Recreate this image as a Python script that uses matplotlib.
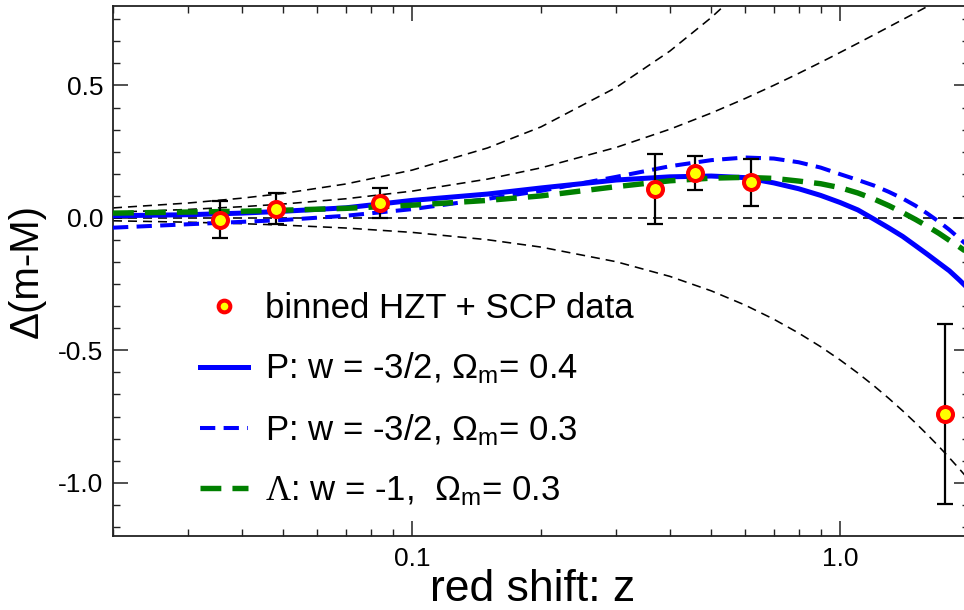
import matplotlib
matplotlib.use("Agg")
import matplotlib.pyplot as plt
from matplotlib.ticker import FixedLocator, FixedFormatter, LogLocator, NullFormatter, AutoMinorLocator

plt.rcParams['font.family'] = ['Liberation Sans', 'DejaVu Sans']
plt.rcParams['mathtext.fontset'] = 'custom'
plt.rcParams['mathtext.rm'] = 'Liberation Sans'
plt.rcParams['mathtext.it'] = 'Liberation Sans'
plt.rcParams['mathtext.sf'] = 'Liberation Serif'
plt.rcParams['lines.scale_dashes'] = False

# Binned HZT + SCP supernova data
z_data = [0.0356, 0.0481, 0.0839, 0.370, 0.459, 0.620, 1.759]
dm_data = [-0.007, 0.035, 0.057, 0.109, 0.169, 0.134, -0.741]
dm_err = [0.070, 0.059, 0.056, 0.131, 0.063, 0.089, 0.340]

# Model curves sampled in red shift
z_model = [0.02, 0.03, 0.04, 0.05, 0.07, 0.1, 0.15, 0.2, 0.3, 0.4, 0.5, 0.6, 0.7,
           0.8, 0.9, 1.0, 1.1, 1.2, 1.3, 1.4, 1.5, 1.6, 1.7, 1.8, 1.9, 2.0]
p_om04 = [0.008, 0.012, 0.018, 0.025, 0.038, 0.066, 0.090, 0.113, 0.143, 0.155, 0.158,
          0.152, 0.132, 0.110, 0.085, 0.058, 0.030, -0.005, -0.038, -0.070, -0.105,
          -0.138, -0.170, -0.200, -0.235, -0.270]
p_om03 = [-0.037, -0.024, -0.015, -0.008, 0.008, 0.033, 0.072, 0.102, 0.155, 0.195, 0.218,
          0.228, 0.224, 0.210, 0.190, 0.165, 0.143, 0.122, 0.098, 0.073, 0.046,
          0.016, -0.014, -0.045, -0.078, -0.110]
lcdm_om03 = [0.018, 0.022, 0.025, 0.029, 0.036, 0.048, 0.066, 0.083, 0.118, 0.140, 0.150,
             0.153, 0.149, 0.139, 0.129, 0.114, 0.094, 0.071, 0.046, 0.020, -0.006,
             -0.032, -0.058, -0.085, -0.110, -0.135]

# Reference curves (black dashed)
ref_zero = [0.0] * len(z_model)
ref_desitter = [0.0214, 0.0319, 0.0422, 0.0523, 0.0722, 0.1010, 0.1464, 0.1889, 0.2662,
                0.3347, 0.3959, 0.4509, 0.5006, 0.5457, 0.5869, 0.6247, 0.6594, 0.6915,
                0.7212, 0.7488, 0.7745, 0.7985, 0.8210, 0.8420, 0.8618, 0.8805]
z_phantom = [0.02, 0.03, 0.04, 0.05, 0.07, 0.1, 0.15, 0.2, 0.3, 0.4, 0.5, 0.6]
ref_phantom = [0.0376, 0.0561, 0.0744, 0.0924, 0.128, 0.1804, 0.264, 0.3436, 0.4928,
               0.6297, 0.7566, 0.8745]
ref_eds = [-0.011, -0.0163, -0.0218, -0.0273, -0.0383, -0.0548, -0.0825, -0.1103, -0.1657,
           -0.2209, -0.2756, -0.3295, -0.3827, -0.435, -0.4862, -0.5366, -0.5860, -0.6345,
           -0.682, -0.7286, -0.7742, -0.819, -0.8628, -0.906, -0.9482, -0.9896]

x_ticks = [0.1, 1.0]
x_ticklabels = ['0.1', '1.0']
y_ticks = [-1.0, -0.5, 0.0, 0.5]
y_ticklabels = ['-1.0', '-0.5', '0.0', '0.5']

fig = plt.figure(figsize=(9.64, 6.10), dpi=100)
W, H = 964.0, 610.0
ax = fig.add_axes([113 / W, 74.3 / H, 856 / W, 529.7 / H])

black_dash = dict(color='black', lw=1.15, dashes=(6.5, 4.3), zorder=2)
ax.plot(z_model, ref_zero, **black_dash)
ax.plot(z_model, ref_desitter, **black_dash)
ax.plot(z_phantom, ref_phantom, **black_dash)
ax.plot(z_model, ref_eds, **black_dash)

ax.plot(z_model, p_om04, color='#0000ff', lw=3.6, zorder=3,
        label=r'P: w = -3/2, $\Omega_{m}$= 0.4')
ax.plot(z_model, p_om03, color='#0000ff', lw=2.9, dashes=(11, 6), zorder=3,
        label=r'P: w = -3/2, $\Omega_{m}$= 0.3')
ax.plot(z_model, lcdm_om03, color='#008000', lw=3.9, dashes=(15, 8), zorder=3,
        label=r'$\mathsf{\Lambda}$: w = -1,  $\Omega_{m}$= 0.3')

ax.errorbar(z_data, dm_data, yerr=dm_err, fmt='none', ecolor='black', elinewidth=1.6,
            capsize=6, capthick=1.6, zorder=4)
ax.plot(z_data, dm_data, ls='none', marker='o', ms=10.8, mfc='#ffff00', mec='#ff0000',
        mew=2.9, zorder=5, label='binned HZT + SCP data')

ax.set_xscale('log')
ax.set_xlim(0.02, 2.0)
ax.set_ylim(-1.2, 0.8)
ax.xaxis.set_major_locator(FixedLocator(x_ticks))
ax.xaxis.set_major_formatter(FixedFormatter(x_ticklabels))
ax.xaxis.set_minor_locator(LogLocator(base=10, subs=range(2, 10)))
ax.xaxis.set_minor_formatter(NullFormatter())
ax.yaxis.set_major_locator(FixedLocator(y_ticks))
ax.yaxis.set_major_formatter(FixedFormatter(y_ticklabels))
ax.yaxis.set_minor_locator(AutoMinorLocator(6))

ax.tick_params(which='both', direction='in', top=True, right=True, labelsize=19,
               color='#222222')
ax.tick_params(which='major', length=11, width=1.1)
ax.tick_params(which='minor', length=5, width=1.0)
ax.tick_params(axis='x', pad=8)
ax.tick_params(axis='y', pad=7)
for s in ax.spines.values():
    s.set_linewidth(1.3)
    s.set_color('#222222')

ax.set_xlabel('red shift: z', fontsize=32, labelpad=0)
ax.xaxis.set_label_coords(0.4907, -0.062, transform=ax.transAxes)
ax.xaxis.label.set_va('top')
ax.set_ylabel('Δ(m-M)', fontsize=29, labelpad=9)

handles, labels = ax.get_legend_handles_labels()
order = [3, 0, 1, 2]
leg = ax.legend([handles[i] for i in order], [labels[i] for i in order],
                loc='upper left', bbox_to_anchor=(0.1016, 0.4606), frameon=False,
                fontsize=25, handlelength=1.38, handletextpad=0.49, labelspacing=0.75,
                borderpad=0, borderaxespad=0, markerscale=0.78)

fig.savefig('out.png', dpi=100)
